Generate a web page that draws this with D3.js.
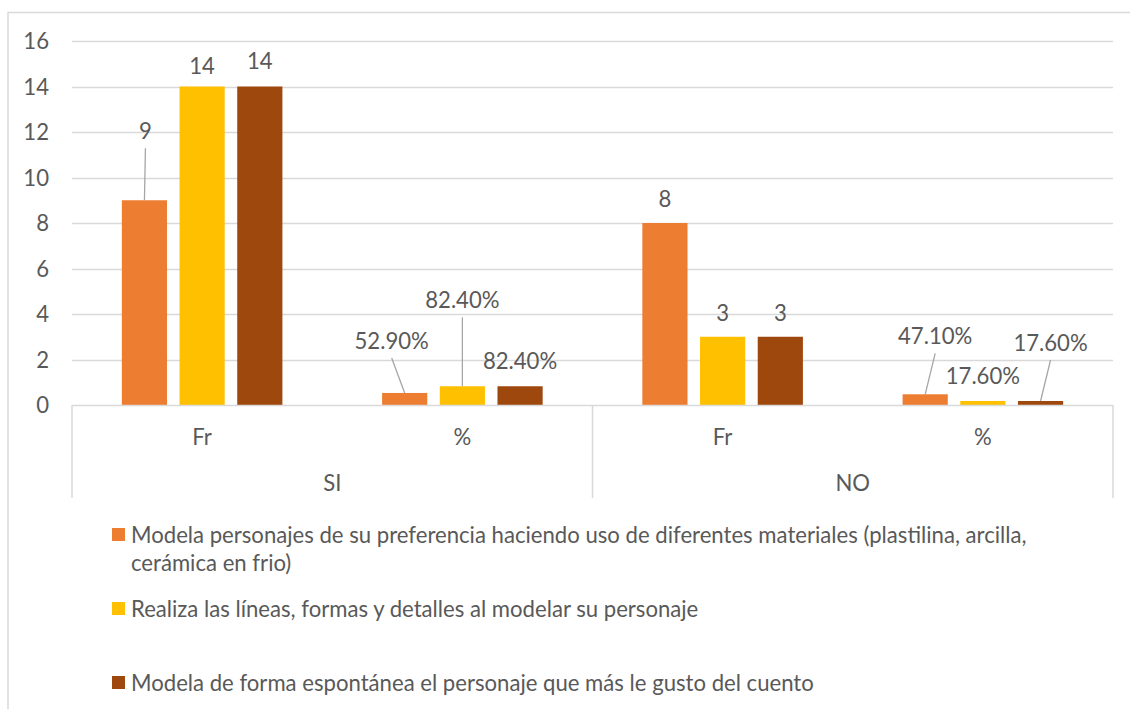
<!DOCTYPE html>
<html><head><meta charset="utf-8">
<script src="https://cdn.jsdelivr.net/npm/d3@7"></script>
<style>
html,body{margin:0;padding:0;background:#fff;}
svg{display:block;}
text{font-family:Lato,"Open Sans",sans-serif;fill:#595959;}
</style></head><body>
<svg id="c" width="1130" height="709"></svg>
<script>
// ---- data ----
const outerCategories = ["SI", "NO"];
const innerCategories = ["Fr", "%"];
const seriesNames = [
  "Modela personajes de su preferencia haciendo uso de diferentes materiales (plastilina, arcilla, cerámica en frio)",
  "Realiza las líneas, formas y detalles al modelar su personaje",
  "Modela de forma espontánea el personaje que más le gusto del cuento"
];
const seriesColors = ["#ED7D31", "#FFC000", "#9E480E"];
const series1 = [9, 0.529, 8, 0.471];
const series2 = [14, 0.824, 3, 0.176];
const series3 = [14, 0.824, 3, 0.176];
const labels1 = ["9", "52.90%", "8", "47.10%"];
const labels2 = ["14", "82.40%", "3", "17.60%"];
const labels3 = ["14", "82.40%", "3", "17.60%"];
const yTicks = [0, 2, 4, 6, 8, 10, 12, 14, 16];

// label placement (px offsets from bar top centre) and leader flags
const labelOffsets = [
  [[1,-69,true],[-13,-52,true],[0,-24,false],[10,-58,true]],
  [[0,-20,false],[0,-86,true],[0,-23,false],[0,-25,false]],
  [[0,-25,false],[0,-25,false],[0,-23,false],[10,-58,true]]
];

(function draw() {
const svg = d3.select("#c");
const W = 1130, H = 709;
const pL = 72, pR = 1113, pT = 41, pB = 405;

// fit font size to reference legend width
const probe = svg.append("text").attr("font-size", 20)
  .text("Modela personajes de su preferencia haciendo uso de diferentes materiales (plastilina, arcilla,");
const fs = 20 * 896 / probe.node().getComputedTextLength();
probe.remove();

// chart border
svg.append("path").attr("d", `M8,${H+2} V12.5 H${W+2}`).attr("fill","none")
  .attr("stroke","#d9d9d9").attr("stroke-width",1.5);

const cats = [];
outerCategories.forEach(o => innerCategories.forEach(i => cats.push(o + "|" + i)));
const x0 = d3.scaleBand().domain(cats).range([pL, pR]).paddingInner(0).paddingOuter(0);
const y = d3.scaleLinear().domain([0, 16]).range([pB, pT]);

// gridlines
svg.append("g").selectAll("line").data(yTicks.filter(d => d > 0)).join("line")
  .attr("x1", pL).attr("x2", pR)
  .attr("y1", d => Math.round(y(d)) + 0.5).attr("y2", d => Math.round(y(d)) + 0.5)
  .attr("stroke", "#d9d9d9").attr("stroke-width", 1.3);

// y axis labels
const yAxis = d3.axisLeft(y).tickValues(yTicks).tickSize(0).tickPadding(0);
const ga = svg.append("g").attr("transform", `translate(49,0)`).call(yAxis);
ga.select(".domain").remove();
ga.selectAll("text").attr("font-size", fs).attr("fill", "#595959")
  .style("font-family", "Lato,'Open Sans',sans-serif").attr("dy", "0.35em");

// bars
const x1 = d3.scaleBand().domain([0,1,2]).range([0, x0.bandwidth()]).paddingInner(0.217).paddingOuter(0.864);
const allSeries = [series1, series2, series3];
const allLabels = [labels1, labels2, labels3];
allSeries.forEach((vals, si) => {
  svg.append("g").selectAll("rect").data(vals).join("rect")
    .attr("x", (d, i) => x0(cats[i]) + x1(si))
    .attr("width", x1.bandwidth())
    .attr("y", d => y(d))
    .attr("height", d => y(0) - y(d))
    .attr("fill", seriesColors[si]);
});

// category axis
svg.append("line").attr("x1", pL).attr("x2", pR).attr("y1", pB + 0.5).attr("y2", pB + 0.5)
  .attr("stroke", "#d9d9d9").attr("stroke-width", 1.5);
[pL, (pL + pR) / 2, pR].forEach(xx => {
  svg.append("line").attr("x1", xx).attr("x2", xx).attr("y1", pB).attr("y2", 498)
    .attr("stroke", "#d9d9d9").attr("stroke-width", 1.5);
});
svg.append("g").selectAll("text").data(cats).join("text")
  .attr("x", d => x0(d) + x0.bandwidth() / 2).attr("y", 437).attr("dy", "0.35em")
  .attr("text-anchor", "middle").attr("font-size", fs).text(d => d.split("|")[1]);
const xo = d3.scaleBand().domain(outerCategories).range([pL, pR]);
svg.append("g").selectAll("text").data(outerCategories).join("text")
  .attr("x", d => xo(d) + xo.bandwidth() / 2).attr("y", 483).attr("dy", "0.35em")
  .attr("text-anchor", "middle").attr("font-size", fs).text(d => d);

// data labels + leaders
allSeries.forEach((vals, si) => {
  vals.forEach((v, i) => {
    const bx = x0(cats[i]) + x1(si) + x1.bandwidth() / 2;
    const by = y(v);
    const [dx, dy, lead] = labelOffsets[si][i];
    const lx = bx + dx, ly = by + dy;
    if (lead) {
      svg.append("line").attr("x1", lx).attr("y1", ly + 17).attr("x2", bx).attr("y2", by)
        .attr("stroke", "#a6a6a6").attr("stroke-width", 1.3);
    }
    svg.append("text").attr("x", lx).attr("y", ly).attr("dy", "0.35em")
      .attr("text-anchor", "middle").attr("font-size", fs).text(allLabels[si][i]);
  });
});

// legend
const legendY = [535, 609, 683];
const lg = svg.append("g");
seriesNames.forEach((name, i) => {
  lg.append("rect").attr("x", 112).attr("y", legendY[i] - 7).attr("width", 13).attr("height", 13)
    .attr("fill", seriesColors[i]);
  if (i === 0) {
    lg.append("text").attr("x", 131).attr("y", legendY[i]).attr("dy", "0.35em").attr("font-size", fs)
      .text("Modela personajes de su preferencia haciendo uso de diferentes materiales (plastilina, arcilla,");
    lg.append("text").attr("x", 131).attr("y", 563).attr("dy", "0.35em").attr("font-size", fs)
      .text("cerámica en frio)");
  } else {
    lg.append("text").attr("x", 131).attr("y", legendY[i]).attr("dy", "0.35em").attr("font-size", fs).text(name);
  }
});
})();
</script>
</body></html>
